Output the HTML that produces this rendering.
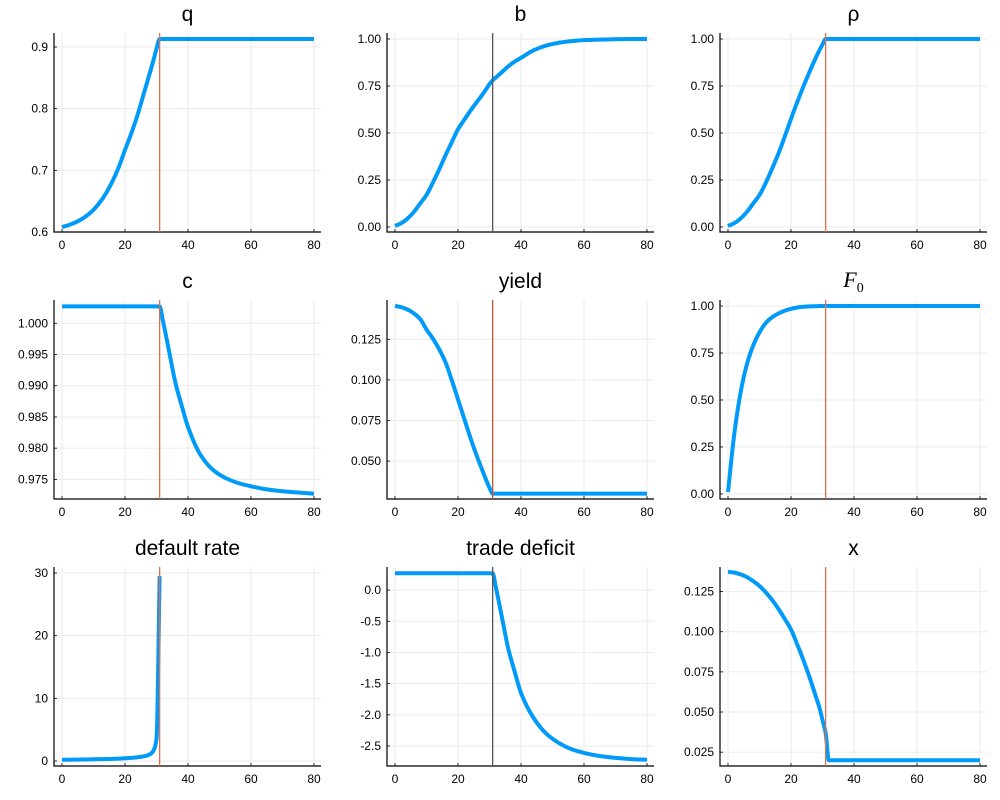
<!DOCTYPE html>
<html><head><meta charset="utf-8">
<style>
html,body{margin:0;padding:0;background:#fff;}
svg{display:block;font-family:"Liberation Sans",sans-serif;}
</style></head>
<body>
<svg id="chart" width="1000" height="800" viewBox="0 0 1000 800" xmlns="http://www.w3.org/2000/svg"></svg>
<script>
const times = [0,2,4,6,8,10,12,14,16,18,20,22,24,26,28,29,30,31,32,34,36,38,40,44,48,52,56,60,65,70,75,80];
const qVals = [0.608,0.611,0.615,0.620,0.627,0.636,0.648,0.663,0.682,0.705,0.733,0.76,0.79,0.825,0.86,0.878,0.897,0.913,0.913,0.913,0.913,0.913,0.913,0.913,0.913,0.913,0.913,0.913,0.913,0.913,0.913,0.913];
const bVals = [0.005,0.02,0.045,0.08,0.125,0.17,0.235,0.305,0.38,0.45,0.52,0.57,0.62,0.665,0.71,0.735,0.76,0.78,0.795,0.825,0.855,0.88,0.90,0.94,0.965,0.98,0.989,0.994,0.997,0.999,1.0,1.0];
const rhoVals = [0.005,0.02,0.045,0.08,0.125,0.17,0.235,0.31,0.39,0.48,0.575,0.665,0.75,0.83,0.905,0.94,0.97,1.0,1.0,1.0,1.0,1.0,1.0,1.0,1.0,1.0,1.0,1.0,1.0,1.0,1.0,1.0];
const cVals = [1.0027,1.0027,1.0027,1.0027,1.0027,1.0027,1.0027,1.0027,1.0027,1.0027,1.0027,1.0027,1.0027,1.0027,1.0027,1.0027,1.0027,1.0027,1.0005,0.9955,0.9905,0.9868,0.9834,0.9789,0.9765,0.9752,0.9744,0.9739,0.9734,0.9731,0.9729,0.9727];
const yieldVals = [0.1455,0.1448,0.1433,0.141,0.1375,0.131,0.1255,0.119,0.111,0.1,0.088,0.076,0.064,0.053,0.043,0.038,0.0335,0.030,0.030,0.030,0.030,0.030,0.030,0.030,0.030,0.030,0.030,0.030,0.030,0.030,0.030,0.030];
const f0Vals = [0.01,0.32,0.54,0.69,0.79,0.86,0.91,0.94,0.96,0.975,0.985,0.992,0.996,0.998,0.999,1.0,1.0,1.0,1.0,1.0,1.0,1.0,1.0,1.0,1.0,1.0,1.0,1.0,1.0,1.0,1.0,1.0];
const defaultVals = [0.2,0.2,0.22,0.23,0.25,0.27,0.29,0.31,0.34,0.38,0.43,0.5,0.6,0.75,1.1,1.6,3.5,29.5,null,null,null,null,null,null,null,null,null,null,null,null,null,null];
const tdVals = [0.27,0.27,0.27,0.27,0.27,0.27,0.27,0.27,0.27,0.27,0.27,0.27,0.27,0.27,0.27,0.27,0.27,0.27,0.05,-0.45,-0.95,-1.31,-1.65,-2.05,-2.3,-2.45,-2.55,-2.61,-2.66,-2.69,-2.71,-2.72];
const xVals = [0.1373,0.1368,0.1357,0.134,0.1315,0.1285,0.1245,0.1198,0.1143,0.108,0.1014,0.092,0.082,0.071,0.059,0.053,0.045,0.037,0.020,0.020,0.020,0.020,0.020,0.020,0.020,0.020,0.020,0.020,0.020,0.020,0.020,0.020];
const xTicks = [0,20,40,60,80];
const qTicks = [0.6,0.7,0.8,0.9];
const unitTicks = [0,0.25,0.5,0.75,1.0];
const cTicks = [0.975,0.98,0.985,0.99,0.995,1.0];
const yieldTicks = [0.05,0.075,0.1,0.125];
const defaultTicks = [0,10,20,30];
const tdTicks = [-2.5,-2.0,-1.5,-1.0,-0.5,0.0];
const xsTicks = [0.025,0.05,0.075,0.1,0.125];
const vlineT = 31;

const NS = "http://www.w3.org/2000/svg";
const svg = document.getElementById('chart');
function mk(tag, attrs, parent){const e=document.createElementNS(NS,tag);for(const k in attrs)e.setAttribute(k,attrs[k]);(parent||svg).appendChild(e);return e;}

// monotone cubic (Fritsch-Carlson) path through pixel points
function monoPath(pts){
  const n=pts.length; if(n<2) return '';
  const dx=[],dy=[],m=[];
  for(let i=0;i<n-1;i++){dx.push(pts[i+1][0]-pts[i][0]);dy.push(pts[i+1][1]-pts[i][1]);m.push(dy[i]/dx[i]);}
  const tg=[m[0]];
  for(let i=1;i<n-1;i++){ if(m[i-1]*m[i]<=0) tg.push(0); else { const w1=2*dx[i]+dx[i-1], w2=dx[i]+2*dx[i-1]; tg.push((w1+w2)/(w1/m[i-1]+w2/m[i])); } }
  tg.push(m[n-2]);
  let d='M'+pts[0][0].toFixed(2)+','+pts[0][1].toFixed(2);
  for(let i=0;i<n-1;i++){
    const h=dx[i]/3;
    d+=' C'+(pts[i][0]+h).toFixed(2)+','+(pts[i][1]+tg[i]*h).toFixed(2)+' '+(pts[i+1][0]-h).toFixed(2)+','+(pts[i+1][1]-tg[i+1]*h).toFixed(2)+' '+pts[i+1][0].toFixed(2)+','+pts[i+1][1].toFixed(2);
  }
  return d;
}

const colL=[54,387,720], colR=[321,654,987];
const rowT=[33,300,567], rowB=[232,499,766];
const panels=[
 {name:'q',title:'q',vals:qVals,ticks:qTicks,dec:1,ymin:0.6,ymax:0.9227,vc:'#e26f46'},
 {name:'b',title:'b',vals:bVals,ticks:unitTicks,dec:2,ymin:-0.027,ymax:1.032,vc:'#555555'},
 {name:'rho',title:'ρ',vals:rhoVals,ticks:unitTicks,dec:2,ymin:-0.027,ymax:1.032,vc:'#e26f46'},
 {name:'c',title:'c',vals:cVals,ticks:cTicks,dec:3,ymin:0.97186,ymax:1.00373,vc:'#e26f46'},
 {name:'yield',title:'yield',vals:yieldVals,ticks:yieldTicks,dec:3,ymin:0.02666,ymax:0.1492,vc:'#c9542c'},
 {name:'f0',title:'F0',vals:f0Vals,ticks:unitTicks,dec:2,ymin:-0.027,ymax:1.032,vc:'#e26f46'},
 {name:'default-rate',title:'default rate',vals:defaultVals,ticks:defaultTicks,dec:0,ymin:-0.8,ymax:30.96,vc:'#e26f46'},
 {name:'trade-deficit',title:'trade deficit',vals:tdVals,ticks:tdTicks,dec:1,ymin:-2.82,ymax:0.37,vc:'#555555'},
 {name:'x',title:'x',vals:xVals,ticks:xsTicks,dec:3,ymin:0.0164,ymax:0.1403,vc:'#e26f46'}
];
panels.forEach((p,i)=>{
  const r=Math.floor(i/3), c=i%3;
  const L=colL[c], R=colR[c], T=rowT[r], B=rowB[r];
  const x0=L+8, x1=R-7;
  const X=t=>x0+(t-0)/(80-0)*(x1-x0);
  const Y=v=>B-(v-p.ymin)/(p.ymax-p.ymin)*(B-T);
  const g=mk('g',{});
  
  
  xTicks.forEach(t=>{const l=mk('line',{x1:X(t),x2:X(t),y1:T,y2:B,stroke:'#ebebeb','stroke-width':1},g);
    });
  p.ticks.forEach(v=>{const l=mk('line',{x1:L,x2:R,y1:Y(v),y2:Y(v),stroke:'#ebebeb','stroke-width':1},g);
    });
  const ax=mk('path',{d:`M${L},${T} L${L},${B} L${R},${B}`,fill:'none',stroke:'#000','stroke-width':1.2},g);
  
  xTicks.forEach(t=>{
    mk('line',{x1:X(t),x2:X(t),y1:B,y2:B-3,stroke:'#000','stroke-width':0.8},g);
    const tx=mk('text',{x:X(t),y:B+17,'font-size':12,'text-anchor':'middle',fill:'#000'},g);
    tx.textContent=String(t);
    
  });
  p.ticks.forEach(v=>{
    mk('line',{x1:L,x2:L+3,y1:Y(v),y2:Y(v),stroke:'#000','stroke-width':0.8},g);
    const tx=mk('text',{x:L-6,y:Y(v)+4,'font-size':12,'text-anchor':'end',fill:'#000'},g);
    tx.textContent=v.toFixed(p.dec);
    
  });
  const ty=T-19;
  let tt;
  if(p.name==='f0'){
    tt=mk('text',{x:(L+R)/2,y:ty+6,'font-size':22,'text-anchor':'middle','font-family':'"Liberation Serif",serif','font-style':'italic'},g);
    const s1=mk('tspan',{},tt);s1.textContent='F';
    const s2=mk('tspan',{dy:5,'font-size':14,'font-style':'normal'},tt);s2.textContent='0';
  } else {
    tt=mk('text',{x:(L+R)/2,y:ty+7,'font-size':21,'text-anchor':'middle',fill:'#000'},g);
    tt.textContent=p.title;
  }
  
  // series, monotone cubic through data points
  const pts=[];
  times.forEach((t,k)=>{const v=p.vals[k];if(v===null||v===undefined)return;pts.push([X(t),Y(v)]);});
  const ln=mk('path',{d:monoPath(pts),fill:'none',stroke:'#009af9','stroke-width':4,'stroke-linejoin':'round'},g);
  
  const vl=mk('line',{x1:X(vlineT),x2:X(vlineT),y1:T,y2:B,stroke:p.vc,'stroke-width':1.3},g);
  
});
</script>
</body></html>
